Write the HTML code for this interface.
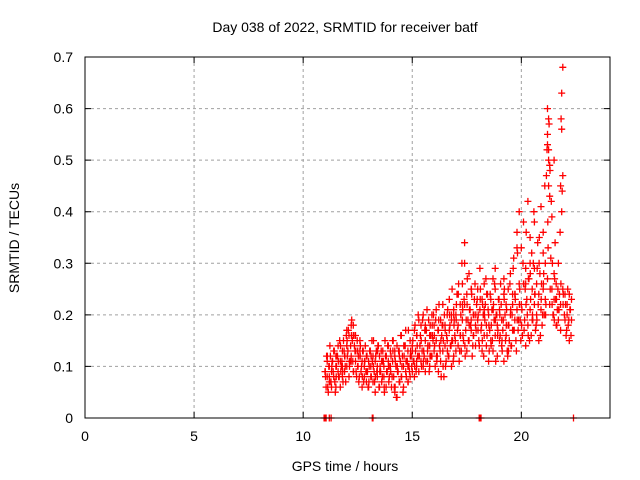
<!DOCTYPE html>
<html><head><meta charset="utf-8"><style>
body{margin:0;background:#fff;}
svg{display:block;font-family:"Liberation Sans",sans-serif;}
</style></head><body>
<svg id="chart" width="640" height="480">
<text x="345" y="32" text-anchor="middle" font-size="14">Day 038 of 2022, SRMTID for receiver batf</text>
<text x="345" y="471" text-anchor="middle" font-size="14">GPS time / hours</text>
<text x="19" y="238" text-anchor="middle" font-size="14" transform="rotate(-90 19 238)">SRMTID / TECUs</text>
<g id="grid"></g>
<g id="axes"></g>
<g id="pts"></g>
<rect x="85" y="57" width="525" height="361" fill="none" stroke="#000" stroke-width="1"/>
</svg>
<script>
const xTicks=[0,5,10,15,20];
const yTicks=[0,0.1,0.2,0.3,0.4,0.5,0.6,0.7];
const yTickLabels=["0","0.1","0.2","0.3","0.4","0.5","0.6","0.7"];
const hours=[10.96,11.0,11.05,11.2,11.28,13.17,13.2,18.07,18.1,18.15,22.39,
11.0,11.05,11.1,11.1,11.15,11.2,11.2,11.25,11.3,11.3,11.35,11.4,11.4,11.45,11.5,11.5,11.55,11.6,11.6,11.65,11.7,11.7,11.75,11.8,11.8,11.85,11.9,11.9,11.95,12.0,12.0,12.05,12.1,12.1,12.15,12.2,12.2,12.25,12.3,12.3,12.35,12.4,12.4,12.45,12.5,12.5,12.55,12.6,12.6,12.65,12.7,12.7,12.75,12.8,12.8,12.85,12.9,12.9,12.95,13.0,13.0,13.05,13.1,13.1,13.15,13.2,13.2,13.25,13.3,13.3,13.35,13.4,13.4,13.45,13.5,13.5,13.55,13.6,13.6,13.65,13.7,13.7,13.75,13.8,13.8,13.85,13.9,13.9,13.95,
14.0,14.0,14.05,14.1,14.1,14.15,14.2,14.2,14.25,14.3,14.3,14.35,14.4,14.4,14.45,14.5,14.5,14.55,14.6,14.6,14.65,14.7,14.7,14.75,14.8,14.8,14.85,14.9,14.9,14.95,15.0,15.0,15.05,15.1,15.1,15.15,15.2,15.2,15.25,15.3,15.3,15.35,15.4,15.4,15.45,15.5,15.5,15.55,15.6,15.6,15.65,15.7,15.7,15.75,15.8,15.8,15.85,15.9,15.9,15.95,
16.0,16.0,16.05,16.1,16.1,16.15,16.2,16.2,16.25,16.3,16.3,16.35,16.4,16.4,16.45,16.5,16.5,16.55,16.6,16.6,16.65,16.7,16.7,16.75,16.8,16.8,16.85,16.9,16.9,16.95,17.0,17.0,17.05,17.1,17.1,17.15,17.2,17.2,17.25,17.3,17.3,17.35,17.4,17.4,17.45,17.5,17.5,17.55,17.6,17.6,17.65,17.7,17.7,17.75,17.8,17.8,17.85,17.9,17.9,17.95,
18.0,18.0,18.05,18.1,18.1,18.15,18.2,18.2,18.25,18.3,18.3,18.35,18.4,18.4,18.45,18.5,18.5,18.55,18.6,18.6,18.65,18.7,18.7,18.75,18.8,18.8,18.85,18.9,18.9,18.95,19.0,19.0,19.05,19.1,19.1,19.15,19.2,19.2,19.25,19.3,19.3,19.35,19.4,19.4,19.45,19.5,19.5,19.55,19.6,19.6,19.65,19.7,19.7,19.75,19.8,19.8,19.85,19.9,19.9,19.95,
20.0,20.0,20.05,20.1,20.1,20.15,20.2,20.2,20.25,20.3,20.3,20.35,20.4,20.4,20.45,20.5,20.5,20.55,20.6,20.6,20.65,20.7,20.7,20.75,20.8,20.8,20.85,20.9,20.9,20.95,21.0,21.0,21.05,21.1,21.1,21.15,21.2,21.2,21.2,21.25,21.25,21.25,21.3,21.3,21.35,21.4,21.4,21.45,21.5,21.5,21.55,21.6,21.6,21.65,21.7,21.7,21.75,21.8,21.8,21.85,21.85,21.85,21.9,21.9,21.9,22.0,22.0,22.05,22.1,22.1,22.15,22.2,22.2,22.25,22.3,22.3,
11.5,12.0,12.3,13.4,14.2,15.2,15.8,16.4,16.9,17.3,17.7,18.3,18.8,19.2,19.6,20.2,20.6,21.0,21.3,21.5,21.8,21.2,21.25,20.4,19.8,18.8,17.4,16.8,16.2,15.6,14.8,13.8,12.6,12.2,11.8,11.2];
const tec=[0,0,0,0,0,0,0,0,0,0,0,
0.09,0.06,0.11,0.08,0.05,0.1,0.07,0.12,0.09,0.06,0.11,0.08,0.13,0.07,0.1,0.06,0.12,0.09,0.14,0.08,0.11,0.06,0.1,0.13,0.08,0.15,0.09,0.12,0.07,0.17,0.1,0.13,0.08,0.16,0.11,0.18,0.12,0.15,0.18,0.09,0.14,0.11,0.16,0.08,0.13,0.1,0.07,0.12,0.15,0.09,0.11,0.06,0.13,0.08,0.1,0.14,0.07,0.12,0.09,0.11,0.06,0.13,0.08,0.1,0.15,0.07,0.12,0.09,0.11,0.05,0.13,0.08,0.1,0.14,0.06,0.12,0.09,0.11,0.07,0.13,0.08,0.1,0.15,0.06,0.12,0.09,0.11,0.14,0.08,
0.1,0.13,0.06,0.11,0.15,0.08,0.12,0.05,0.1,0.14,0.04,0.09,0.13,0.07,0.11,0.16,0.08,0.12,0.1,0.06,0.14,0.09,0.17,0.11,0.07,0.13,0.1,0.15,0.08,0.12,0.09,0.14,0.11,0.17,0.08,0.13,0.1,0.16,0.12,0.19,0.09,0.14,0.11,0.18,0.13,0.1,0.2,0.12,0.15,0.09,0.17,0.13,0.11,0.19,0.14,0.1,0.16,0.12,0.2,0.15,
0.13,0.18,0.1,0.15,0.21,0.12,0.17,0.09,0.14,0.19,0.11,0.16,0.22,0.13,0.08,0.18,0.14,0.11,0.2,0.15,0.12,0.17,0.23,0.14,0.1,0.19,0.15,0.12,0.21,0.16,0.13,0.2,0.24,0.14,0.18,0.11,0.22,0.16,0.13,0.26,0.19,0.15,0.34,0.22,0.17,0.13,0.24,0.19,0.15,0.28,0.21,0.17,0.25,0.12,0.2,0.16,0.23,0.18,0.14,0.22,
0.19,0.25,0.15,0.21,0.29,0.17,0.23,0.13,0.2,0.26,0.16,0.22,0.18,0.14,0.24,0.2,0.11,0.17,0.23,0.15,0.21,0.27,0.13,0.19,0.16,0.25,0.2,0.12,0.18,0.23,0.15,0.21,0.26,0.14,0.19,0.17,0.24,0.11,0.2,0.16,0.22,0.13,0.18,0.25,0.15,0.2,0.28,0.14,0.22,0.17,0.31,0.19,0.24,0.15,0.36,0.21,0.17,0.4,0.26,0.19,
0.22,0.33,0.16,0.26,0.38,0.19,0.29,0.14,0.23,0.42,0.18,0.27,0.21,0.35,0.16,0.25,0.19,0.3,0.22,0.38,0.17,0.26,0.2,0.34,0.24,0.15,0.28,0.21,0.41,0.18,0.25,0.36,0.2,0.3,0.23,0.47,0.55,0.6,0.27,0.52,0.58,0.45,0.22,0.49,0.31,0.25,0.39,0.2,0.28,0.23,0.34,0.18,0.26,0.21,0.3,0.19,0.24,0.17,0.22,0.4,0.56,0.63,0.47,0.68,0.25,0.19,0.24,0.16,0.22,0.2,0.18,0.24,0.15,0.21,0.19,0.23,
0.12,0.14,0.16,0.09,0.13,0.11,0.16,0.18,0.2,0.22,0.19,0.21,0.25,0.27,0.24,0.26,0.29,0.32,0.43,0.5,0.45,0.53,0.5,0.3,0.33,0.29,0.3,0.2,0.17,0.18,0.1,0.12,0.13,0.11,0.1,0.08];
const hours2=[11.025,11.075,11.125,11.175,11.225,11.275,11.325,11.375,11.425,11.475,11.525,11.575,11.625,11.675,11.725,11.775,11.825,11.875,11.925,11.975,
12.025,12.075,12.125,12.175,12.225,12.275,12.325,12.375,12.425,12.475,12.525,12.575,12.625,12.675,12.725,12.775,12.825,12.875,12.925,12.975,
13.025,13.075,13.125,13.175,13.225,13.275,13.325,13.375,13.425,13.475,13.525,13.575,13.625,13.675,13.725,13.775,13.825,13.875,13.925,13.975,
14.025,14.075,14.125,14.175,14.225,14.275,14.325,14.375,14.425,14.475,14.525,14.575,14.625,14.675,14.725,14.775,14.825,14.875,14.925,14.975,
15.025,15.075,15.125,15.175,15.225,15.275,15.325,15.375,15.425,15.475,15.525,15.575,15.625,15.675,15.725,15.775,15.825,15.875,15.925,15.975,
16.025,16.075,16.125,16.175,16.225,16.275,16.325,16.375,16.425,16.475,16.525,16.575,16.625,16.675,16.725,16.775,16.825,16.875,16.925,16.975,
17.025,17.075,17.125,17.175,17.225,17.275,17.325,17.375,17.425,17.475,17.525,17.575,17.625,17.675,17.725,17.775,17.825,17.875,17.925,17.975,
18.025,18.075,18.125,18.175,18.225,18.275,18.325,18.375,18.425,18.475,18.525,18.575,18.625,18.675,18.725,18.775,18.825,18.875,18.925,18.975,
19.025,19.075,19.125,19.175,19.225,19.275,19.325,19.375,19.425,19.475,19.525,19.575,19.625,19.675,19.725,19.775,19.825,19.875,19.925,19.975,
20.025,20.075,20.125,20.175,20.225,20.275,20.325,20.375,20.425,20.475,20.525,20.575,20.625,20.675,20.725,20.775,20.825,20.875,20.925,20.975,
21.025,21.075,21.125,21.175,21.225,21.275,21.325,21.375,21.425,21.475,21.525,21.575,21.625,21.675,21.725,21.775,21.825,21.875,21.925,21.975,
22.025,22.075,22.125,22.175,22.225,22.275];
const tec2=[0.08,0.12,0.06,0.1,0.14,0.07,0.11,0.09,0.13,0.05,0.1,0.12,0.08,0.15,0.09,0.11,0.07,0.13,0.1,0.16,
0.12,0.17,0.1,0.14,0.19,0.11,0.16,0.13,0.09,0.15,0.12,0.08,0.14,0.1,0.13,0.07,0.11,0.09,0.12,0.06,
0.1,0.13,0.08,0.11,0.15,0.07,0.12,0.09,0.14,0.06,0.1,0.13,0.08,0.11,0.05,0.12,0.09,0.14,0.07,0.1,
0.12,0.08,0.15,0.06,0.11,0.04,0.09,0.13,0.07,0.16,0.1,0.05,0.12,0.14,0.08,0.11,0.17,0.09,0.13,0.1,
0.15,0.11,0.18,0.09,0.14,0.2,0.12,0.16,0.1,0.19,0.13,0.17,0.11,0.21,0.14,0.09,0.18,0.12,0.16,0.2,
0.14,0.19,0.11,0.17,0.22,0.13,0.08,0.18,0.15,0.2,0.1,0.16,0.21,0.12,0.18,0.14,0.25,0.11,0.19,0.15,
0.22,0.17,0.26,0.13,0.2,0.3,0.16,0.23,0.12,0.19,0.27,0.15,0.21,0.18,0.24,0.14,0.2,0.26,0.17,0.23,
0.2,0.14,0.25,0.18,0.22,0.12,0.19,0.27,0.16,0.21,0.13,0.24,0.18,0.15,0.22,0.26,0.11,0.2,0.17,0.23,
0.16,0.22,0.13,0.19,0.25,0.15,0.21,0.12,0.18,0.26,0.14,0.2,0.29,0.17,0.23,0.13,0.32,0.19,0.25,0.15,
0.21,0.3,0.17,0.25,0.36,0.2,0.27,0.15,0.23,0.32,0.19,0.4,0.24,0.18,0.29,0.22,0.35,0.16,0.26,0.2,
0.28,0.45,0.22,0.52,0.33,0.57,0.25,0.42,0.3,0.2,0.27,0.23,0.18,0.25,0.21,0.36,0.58,0.44,0.24,0.2,
0.22,0.17,0.25,0.19,0.21,0.16];
const hours3=[11.0125,11.1125,11.2125,11.3125,11.4125,11.5125,11.6125,11.7125,11.8125,11.9125,
12.0125,12.1125,12.2125,12.3125,12.4125,12.5125,12.6125,12.7125,12.8125,12.9125,
13.0125,13.1125,13.2125,13.3125,13.4125,13.5125,13.6125,13.7125,13.8125,13.9125,
14.0125,14.1125,14.2125,14.3125,14.4125,14.5125,14.6125,14.7125,14.8125,14.9125,
15.0125,15.1125,15.2125,15.3125,15.4125,15.5125,15.6125,15.7125,15.8125,15.9125,
16.0125,16.1125,16.2125,16.3125,16.4125,16.5125,16.6125,16.7125,16.8125,16.9125,
17.0125,17.1125,17.2125,17.3125,17.4125,17.5125,17.6125,17.7125,17.8125,17.9125,
18.0125,18.1125,18.2125,18.3125,18.4125,18.5125,18.6125,18.7125,18.8125,18.9125,
19.0125,19.1125,19.2125,19.3125,19.4125,19.5125,19.6125,19.7125,19.8125,19.9125,
20.0125,20.1125,20.2125,20.3125,20.4125,20.5125,20.6125,20.7125,20.8125,20.9125,
21.0125,21.1125,21.2125,21.3125,21.4125,21.5125,21.6125,21.7125,21.8125,21.9125];
const tec3=[0.09,0.12,0.07,0.1,0.13,0.08,0.11,0.14,0.09,0.12,
0.15,0.11,0.16,0.09,0.13,0.1,0.12,0.08,0.11,0.09,
0.07,0.12,0.1,0.08,0.13,0.09,0.11,0.06,0.12,0.1,
0.09,0.13,0.06,0.1,0.12,0.08,0.14,0.11,0.07,0.12,
0.13,0.1,0.16,0.12,0.15,0.11,0.17,0.14,0.12,0.18,
0.16,0.12,0.19,0.15,0.1,0.17,0.13,0.2,0.15,0.18,
0.19,0.24,0.16,0.21,0.14,0.22,0.18,0.25,0.16,0.2,
0.17,0.23,0.15,0.2,0.24,0.18,0.14,0.21,0.19,0.16,
0.2,0.15,0.23,0.18,0.13,0.21,0.17,0.24,0.19,0.22,
0.18,0.26,0.22,0.16,0.28,0.2,0.24,0.19,0.3,0.23,
0.26,0.2,0.38,0.48,0.22,0.19,0.23,0.21,0.26,0.22];
const X0=85,X1=608.6,Y0=418,Y1=57;
const xs=h=>X0+(X1-X0)*h/24;
const ys=v=>Y0-(Y0-Y1)*v/0.7;
const NS="http://www.w3.org/2000/svg";
const grid=document.getElementById('grid'),axes=document.getElementById('axes'),pts=document.getElementById('pts');
function mk(tag,attrs,parent){const e=document.createElementNS(NS,tag);for(const k in attrs)e.setAttribute(k,attrs[k]);parent.appendChild(e);return e;}
xTicks.forEach((t,i)=>{
  const x=xs(t);
  if(t>0){const g=mk('line',{x1:x,x2:x,y1:Y1,y2:Y0,stroke:'#a0a0a0','stroke-dasharray':'3,3'},grid);
  
  }
  const tk=mk('path',{d:`M${x},${Y0}v-6M${x},${Y1}v6`,stroke:'#000'},axes);
  
  
  const l=mk('text',{x:x,y:Y0+23,'text-anchor':'middle','font-size':'14'},axes);l.textContent=t;
  
  
});
yTicks.forEach((t,i)=>{
  const y=ys(t);
  if(t>0&&t<0.7){const g=mk('line',{x1:X0,x2:610,y1:y,y2:y,stroke:'#a0a0a0','stroke-dasharray':'3,3'},grid);
  
  }
  const tk=mk('path',{d:`M${X0},${y}h6M610,${y}h-6`,stroke:'#000'},axes);
  
  
  const l=mk('text',{x:X0-12,y:y+5,'text-anchor':'end','font-size':'14'},axes);l.textContent=yTickLabels[i];
  
  
});
function crosses(hs,vs){let d='';hs.forEach((h,i)=>{const x=xs(h),y=ys(vs[i]);d+=`M${(x-3.5).toFixed(1)},${y.toFixed(1)}h7M${x.toFixed(1)},${(y-3.5).toFixed(1)}v7`;});return d;}
const p=mk('path',{d:crosses(hours,tec)+crosses(hours2,tec2)+crosses(hours3,tec3),stroke:'#ff0000','stroke-width':'1.3',fill:'none'},pts);


</script>
</body></html>
